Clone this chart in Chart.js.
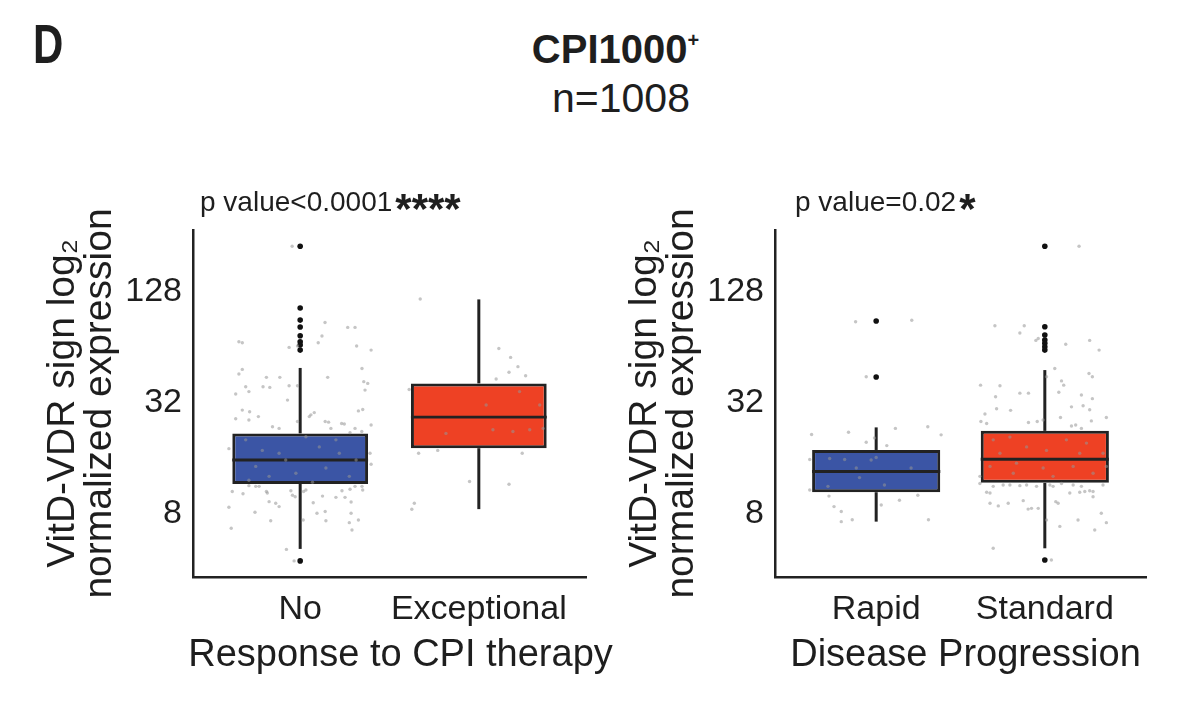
<!DOCTYPE html>
<html>
<head>
<meta charset="utf-8">
<script src="https://cdn.jsdelivr.net/npm/chart.js@4.4.1/dist/chart.umd.min.js"></script>
<style>
  body { margin: 0; background: #fff; width: 1200px; height: 711px; position: relative; overflow: hidden;
         font-family: "Liberation Sans", Arial, sans-serif; color: #1e1e1e; }
  .panel-letter { position: absolute; left: 33px; top: 16px; font-weight: bold; font-size: 56px; line-height: 56px;
                  transform: scaleX(0.75); transform-origin: left top; }
  .main-title { position: absolute; left: 0; width: 1231px; top: 29px; text-align: center;
                font-weight: bold; font-size: 40px; line-height: 40px; }
  .main-title sup { font-size: 20px; vertical-align: 16px; line-height: 0; }
  .sub-title { position: absolute; left: 0; width: 1242px; top: 78px; text-align: center;
               font-size: 41px; line-height: 41px; }
  .panel { position: absolute; top: 170px; height: 541px; }
</style>
</head>
<body>
<div class="panel-letter">D</div>
<div class="main-title">CPI1000<sup>+</sup></div>
<div class="sub-title">n=1008</div>
<div class="panel" style="left:0; width:630px;"><canvas id="response-chart"></canvas></div>
<div class="panel" style="left:582px; width:618px;"><canvas id="progression-chart"></canvas></div>

<script>
// y axis (log2 scale)
const yTicks = [8, 32, 128];
const yTitleLines = ['VitD-VDR sign log\u2082', 'normalized expression'];

// left panel: response to CPI therapy
const responseCategories = ['No', 'Exceptional'];
// box stats: [lower whisker, q1, median, q3, upper whisker]
const noStats = [5.17, 11.64, 15.7, 21.9, 49.6];
const exceptionalStats = [8.5, 18.2, 26.8, 40.9, 116.8];
const noOutliers = [227, 105, 90.2, 82.7, 74.2, 68.8, 66.1, 62.0, 4.45];
const exceptionalOutliers = [];
// jittered samples: [x jitter (category units), value]
const noPoints = [
  [-0.045, 227], [-0.343, 68.8], [-0.324, 68.0], [0.139, 87.6], [0.266, 82.3], [0.307, 82.3],
  [0.122, 73.9], [-0.062, 64.1], [-0.015, 65.2], [0.101, 68.0], [0.316, 65.2], [0.397, 62.0],
  [-0.324, 48.7], [-0.343, 46.0], [-0.189, 44.1], [-0.114, 44.1], [0.154, 44.1], [0.346, 49.3],
  [-0.305, 39.2], [-0.208, 39.2], [-0.170, 38.9], [-0.062, 39.7], [-0.015, 39.7], [-0.287, 36.9],
  [-0.361, 35.8], [0.356, 41.8], [0.378, 40.9], [0.363, 37.6], [-0.071, 33.2], [-0.324, 29.3],
  [-0.283, 28.7], [-0.234, 27.0], [0.079, 28.4], [0.060, 27.6], [0.326, 29.0], [0.350, 29.5],
  [-0.361, 26.3], [-0.287, 25.9], [-0.155, 23.8], [-0.118, 23.3], [-0.015, 25.4], [0.051, 27.0],
  [0.140, 25.4], [0.159, 25.2], [0.232, 24.8], [0.247, 24.6], [0.397, 24.3], [0.172, 23.3],
  [0.279, 22.1], [0.307, 23.3], [0.345, 22.4], [-0.399, 18.1], [0.391, 17.1], [0.397, 14.9],
  [-0.305, 20.2], [-0.212, 17.7], [-0.118, 17.1], [0.107, 18.5], [0.219, 17.1], [0.313, 15.7],
  [-0.249, 14.5], [-0.024, 13.3], [0.144, 14.2], [-0.174, 12.8], [0.275, 12.8], [0.032, 21.0],
  [-0.081, 15.7], [0.200, 20.2], [-0.287, 12.2], [0.069, 11.9],
  [-0.380, 10.6], [-0.320, 10.3], [-0.287, 11.4], [-0.249, 11.3], [-0.230, 11.3], [-0.189, 10.6],
  [-0.184, 10.4], [-0.174, 9.33], [-0.137, 9.14], [-0.118, 8.77], [-0.052, 10.7], [-0.043, 10.1],
  [-0.028, 9.93], [0.019, 10.6], [0.032, 10.8], [0.073, 9.2], [0.125, 10.0], [0.200, 9.85],
  [0.234, 10.7], [0.251, 9.85], [0.279, 10.9], [0.285, 9.3], [0.285, 8.07], [0.307, 11.3],
  [0.346, 11.3], [0.350, 10.8], [-0.399, 8.7], [-0.386, 6.69], [-0.253, 8.17], [-0.165, 7.35],
  [0.017, 7.42], [0.094, 8.07], [0.140, 8.25], [0.144, 7.35], [0.275, 7.18], [0.290, 6.55],
  [0.326, 7.42], [-0.077, 5.14], [-0.034, 4.45]
];
const exceptionalPoints = [
  [-0.328, 117.3], [0.112, 63.3], [0.178, 56.6], [0.219, 50.4], [0.169, 47.0], [0.262, 45.0],
  [0.097, 43.2], [-0.390, 37.9], [0.228, 36.9], [0.041, 31.2], [0.341, 31.2], [-0.184, 21.9],
  [0.079, 22.9], [0.285, 22.9], [0.191, 22.4], [0.360, 23.3], [-0.230, 17.7], [-0.337, 17.1],
  [0.243, 17.1], [-0.052, 12.0], [0.169, 11.6], [-0.361, 9.14], [-0.375, 8.48]
];

// right panel: disease progression
const progressionCategories = ['Rapid', 'Standard'];
const rapidStats = [7.27, 10.5, 13.6, 17.8, 23.6];
const standardStats = [5.21, 11.8, 15.85, 22.6, 48.3];
const rapidOutliers = [89.1, 44.3];
const standardOutliers = [227, 83, 74.8, 70.3, 67.5, 64.6, 62.0, 4.5];
const rapidPoints = [
  [-0.122, 88.3], [0.211, 90.0], [-0.059, 44.4], [-0.383, 21.6], [-0.164, 22.2], [0.114, 23.3],
  [0.306, 23.8], [0.385, 21.5], [-0.010, 20.7], [-0.059, 19.6], [0.063, 18.8], [-0.394, 15.8],
  [-0.276, 16.0], [-0.187, 15.8], [-0.030, 15.7], [0.000, 16.2], [-0.118, 14.2], [0.207, 14.2],
  [-0.099, 12.6], [-0.286, 11.3], [0.049, 11.5], [-0.394, 10.8], [-0.280, 10.0], [0.030, 8.95],
  [0.138, 9.5], [0.247, 10.1], [-0.250, 8.77], [-0.207, 8.25], [-0.207, 7.27], [-0.142, 7.45],
  [0.310, 7.45]
];
const standardPoints = [
  [0.203, 227], [-0.296, 84.0], [-0.122, 84.0], [-0.148, 76.8], [-0.053, 70.0], [-0.039, 71.6],
  [0.124, 66.7], [0.266, 70.0], [0.322, 62.0], [0.059, 49.3], [0.010, 44.4], [0.099, 42.2],
  [0.112, 40.0], [0.262, 46.3], [0.282, 44.4], [-0.381, 40.0], [-0.266, 39.7], [-0.148, 36.2],
  [-0.097, 36.2], [0.083, 36.6], [0.217, 35.4], [0.282, 33.8], [-0.292, 34.6], [0.158, 30.5],
  [0.227, 30.9], [0.266, 29.4], [-0.286, 29.8], [-0.203, 29.2], [-0.355, 27.9], [-0.379, 25.4],
  [-0.345, 24.8], [-0.097, 25.1], [-0.045, 25.4], [-0.010, 25.9], [0.093, 26.7], [0.158, 24.0],
  [0.183, 24.3], [0.217, 23.3], [0.276, 25.6], [0.365, 26.7],
  [-0.306, 20.2], [-0.207, 20.9], [-0.108, 18.5], [0.010, 17.7], [0.128, 20.2], [0.247, 19.4],
  [0.345, 17.1], [-0.325, 14.5], [-0.187, 13.3], [-0.010, 14.2], [0.168, 14.5], [0.286, 13.3],
  [-0.266, 17.1], [0.049, 12.8], [-0.168, 15.1], [0.365, 14.5], [-0.385, 12.8], [0.207, 17.1],
  [-0.385, 11.7], [-0.345, 10.5], [-0.306, 11.3], [-0.247, 11.5], [-0.207, 11.5], [-0.148, 11.4],
  [-0.108, 11.5], [-0.049, 11.3], [0.030, 11.5], [0.049, 11.3], [0.099, 11.7], [0.168, 11.5],
  [0.217, 11.3], [0.266, 10.7], [0.286, 10.6], [-0.325, 9.14], [-0.276, 8.85], [-0.217, 9.14],
  [-0.128, 9.45], [-0.099, 8.5], [-0.079, 8.58], [-0.039, 8.58], [0.065, 9.33], [0.079, 9.14],
  [0.148, 10.4], [0.207, 10.5], [0.237, 10.6], [0.286, 9.93], [0.335, 8.07], [0.365, 7.18],
  [0.197, 7.42], [0.089, 6.85], [0.296, 6.55], [0.010, 7.42], [-0.306, 5.21], [0.039, 4.50],
  [-0.325, 10.4], [0.345, 11.5]
];

const boxColors = ['#3b55a5', '#ee4124'];
const lineColor = '#222222';
const textColor = '#1e1e1e';
const fontFamily = '"Liberation Sans", Arial, sans-serif';
const boxWidth = 0.76;

// p value annotation above the plot area and the x axis title below it
// (the axis title is drawn here so it is not squeezed to the axis width)
const panelLabels = {
    id: 'panelLabels',
    afterDraw(chart, args, opts) {
        const { ctx, chartArea } = chart;
        const x = chartArea.left + opts.offset;
        ctx.save();
        ctx.fillStyle = textColor;
        ctx.textBaseline = 'alphabetic';
        ctx.font = `28px ${fontFamily}`;
        ctx.fillText(opts.text, x, chartArea.top - 19);
        const w = ctx.measureText(opts.text).width;
        ctx.font = `bold 42px ${fontFamily}`;
        ctx.fillText(opts.stars, x + w + 3, chartArea.top - 7);

        ctx.font = `38px ${fontFamily}`;
        ctx.textAlign = 'center';
        ctx.textBaseline = 'middle';
        ctx.fillText(opts.xTitle, (chartArea.left + chartArea.right) / 2 + opts.xTitleShift, chartArea.bottom + 79);
        ctx.restore();
    }
};

// Build the box, whisker, median, outlier and jitter datasets for one panel
function buildDatasets(stats, outliers, points) {
    const jitter = [];
    const outs = [];
    const medians = [];
    const whiskers = [];
    const boxes = [];
    stats.forEach((s, i) => {
        const c = i + 1;
        points[i].forEach(p => jitter.push({ x: c + p[0], y: p[1] }));
        outliers[i].forEach(v => outs.push({ x: c, y: v }));
        medians.push({
            type: 'line', data: [{ x: c - boxWidth / 2, y: s[2] }, { x: c + boxWidth / 2, y: s[2] }],
            borderColor: lineColor, borderWidth: 2.8, pointRadius: 0
        });
        whiskers.push({
            type: 'line', data: [{ x: c, y: s[3] }, { x: c, y: s[4] }],
            borderColor: lineColor, borderWidth: 3, pointRadius: 0
        });
        whiskers.push({
            type: 'line', data: [{ x: c, y: s[0] }, { x: c, y: s[1] }],
            borderColor: lineColor, borderWidth: 3, pointRadius: 0
        });
        boxes.push({ x: c, y: [s[1], s[3]] });
    });
    return [
        { type: 'scatter', data: jitter, pointRadius: 1.7, pointBackgroundColor: 'rgba(150,150,150,0.55)', pointBorderWidth: 0 },
        { type: 'scatter', data: outs, pointRadius: 2.8, pointBackgroundColor: '#111', pointBorderWidth: 0 },
        ...medians,
        ...whiskers,
        {
            type: 'bar', data: boxes, backgroundColor: boxColors, borderColor: lineColor,
            borderWidth: 3, borderSkipped: false, barPercentage: boxWidth, categoryPercentage: 1.0
        }
    ];
}

function makeChart(canvasId, categories, datasets, labels, rightPad) {
    const ctx = document.getElementById(canvasId).getContext('2d');
    return new Chart(ctx, {
        type: 'scatter',
        data: { datasets: datasets },
        plugins: [panelLabels],
        options: {
            responsive: true,
            maintainAspectRatio: false,
            animation: false,
            layout: { padding: { top: 60, right: rightPad, left: 0, bottom: 0 } },
            plugins: {
                legend: { display: false },
                tooltip: { enabled: false },
                panelLabels: labels
            },
            scales: {
                x: {
                    type: 'linear',
                    min: 0.4,
                    max: 2.6,
                    offset: false,
                    grid: { display: false },
                    border: { display: true, color: lineColor, width: 2.5 },
                    afterBuildTicks: scale => { scale.ticks = categories.map((c, i) => ({ value: i + 1 })); },
                    afterFit: scale => { scale.height = 134; },
                    ticks: {
                        callback: v => categories[Math.round(v) - 1],
                        font: { size: 34, family: fontFamily },
                        color: textColor,
                        padding: 4,
                        autoSkip: false,
                        maxRotation: 0
                    }
                },
                y: {
                    type: 'logarithmic',
                    min: 3.64,
                    max: 278,
                    grid: { display: false },
                    border: { display: true, color: lineColor, width: 2.5 },
                    afterBuildTicks: scale => { scale.ticks = yTicks.map(v => ({ value: v })); },
                    afterFit: scale => { scale.width = 193; },
                    ticks: {
                        callback: v => String(v),
                        font: { size: 34, family: fontFamily },
                        color: textColor,
                        padding: 3
                    },
                    title: {
                        display: true,
                        text: yTitleLines,
                        color: textColor,
                        font: { size: 39, family: fontFamily, lineHeight: 0.97 },
                        padding: { top: 44, bottom: 0 }
                    }
                }
            }
        }
    });
}

makeChart('response-chart', responseCategories,
    buildDatasets([noStats, exceptionalStats], [noOutliers, exceptionalOutliers], [noPoints, exceptionalPoints]),
    { text: 'p value<0.0001', stars: '****', offset: 7, xTitle: 'Response to CPI therapy', xTitleShift: 11 }, 44);

makeChart('progression-chart', progressionCategories,
    buildDatasets([rapidStats, standardStats], [rapidOutliers, standardOutliers], [rapidPoints, standardPoints]),
    { text: 'p value=0.02', stars: '*', offset: 20, xTitle: 'Disease Progression', xTitleShift: 5 }, 54);
</script>
</body>
</html>
